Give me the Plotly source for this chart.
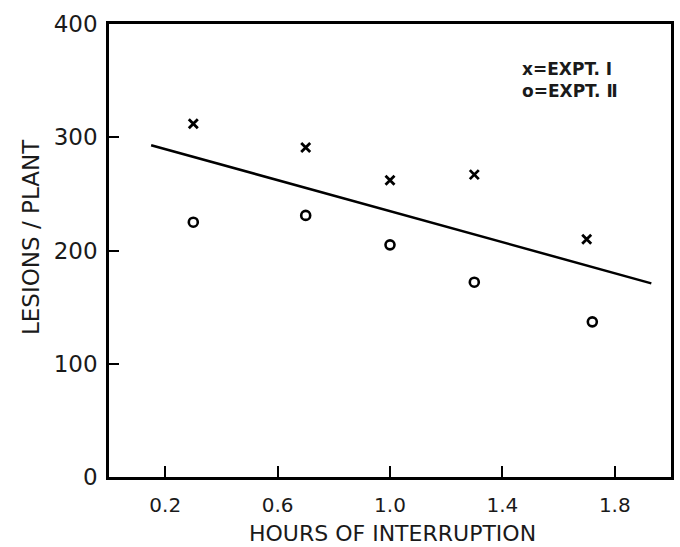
import plotly.graph_objects as go

# Data
hours = [0.3, 0.7, 1.0, 1.3, 1.7]
expt1 = [312, 291, 262, 267, 210]
hours2 = [0.3, 0.7, 1.0, 1.3, 1.72]
expt2 = [225, 231, 205, 172, 137]
fit_x = [0.15, 1.93]
fit_y = [293, 171]

x_ticks = [0.2, 0.6, 1.0, 1.4, 1.8]
x_ticktext = ["0.2", "0.6", "1.0", "1.4", "1.8"]
y_ticks = [0, 100, 200, 300, 400]

x_title = "HOURS OF INTERRUPTION"
y_title = "LESIONS / PLANT"
legend_lines = ["x=EXPT. Ⅰ", "o=EXPT. Ⅱ"]

FONT = "DejaVu Sans"
TXT = "#1a1a1a"

L, R, T, B = 109, 9, 24, 70
W, H = 680, 547
PW, PH = W - L - R, H - T - B

fig = go.Figure()
fig.add_trace(go.Scatter(x=fit_x, y=fit_y, mode="lines",
                         line=dict(color="black", width=2.5), showlegend=False))
fig.add_trace(go.Scatter(x=hours, y=expt1, mode="markers",
                         marker=dict(symbol="x-thin", size=9, color="black",
                                     line=dict(color="black", width=2.8)),
                         showlegend=False))
fig.add_trace(go.Scatter(x=hours2, y=expt2, mode="markers",
                         marker=dict(symbol="circle-open", size=9, color="black",
                                     line=dict(color="black", width=2.6)),
                         showlegend=False))

# legend text (top right), one block of two lines
fig.add_annotation(x=(520 - L) / PW, y=(T + PH - 80) / PH,
                   xref="paper", yref="paper",
                   text="<br>".join("<b>" + t + "</b>" for t in legend_lines),
                   showarrow=False, xanchor="left", yanchor="middle", align="left",
                   font=dict(family=FONT, size=17, color=TXT))

# axis titles as annotations
fig.add_annotation(x=(392 - L) / PW, y=(T + PH - 533) / PH, xref="paper", yref="paper",
                   text=x_title, showarrow=False, xanchor="center", yanchor="middle",
                   font=dict(family=FONT, size=22, color=TXT))
fig.add_annotation(x=(31 - L) / PW, y=(T + PH - 237) / PH, xref="paper", yref="paper",
                   text=y_title, showarrow=False, xanchor="center", yanchor="middle",
                   textangle=-90, font=dict(family=FONT, size=23, color=TXT))

fig.update_layout(
    width=W, height=H,
    margin=dict(l=L, r=R, t=T, b=B),
    plot_bgcolor="white", paper_bgcolor="white",
    font=dict(family=FONT, color="black"),
    xaxis=dict(range=[0, 2.0], tickvals=x_ticks, ticktext=x_ticktext,
               ticks="inside", ticklen=11, tickwidth=2.2, tickcolor="black",
               showline=True, linecolor="black", linewidth=2.5, mirror=True,
               showgrid=False, zeroline=False, automargin=False,
               tickfont=dict(family=FONT, size=20, color=TXT),
               ticklabelstandoff=8),
    yaxis=dict(range=[0, 400], tickvals=y_ticks,
               ticks="inside", ticklen=10, tickwidth=2.2, tickcolor="black",
               showline=True, linecolor="black", linewidth=2.5, mirror=True,
               showgrid=False, zeroline=False, automargin=False,
               tickfont=dict(family=FONT, size=23, color=TXT),
               ticklabelstandoff=4),
)

fig.write_html("out.html", config={"displayModeBar": False},
               post_script="document.body.style.margin='0';document.body.style.overflow='hidden';")
